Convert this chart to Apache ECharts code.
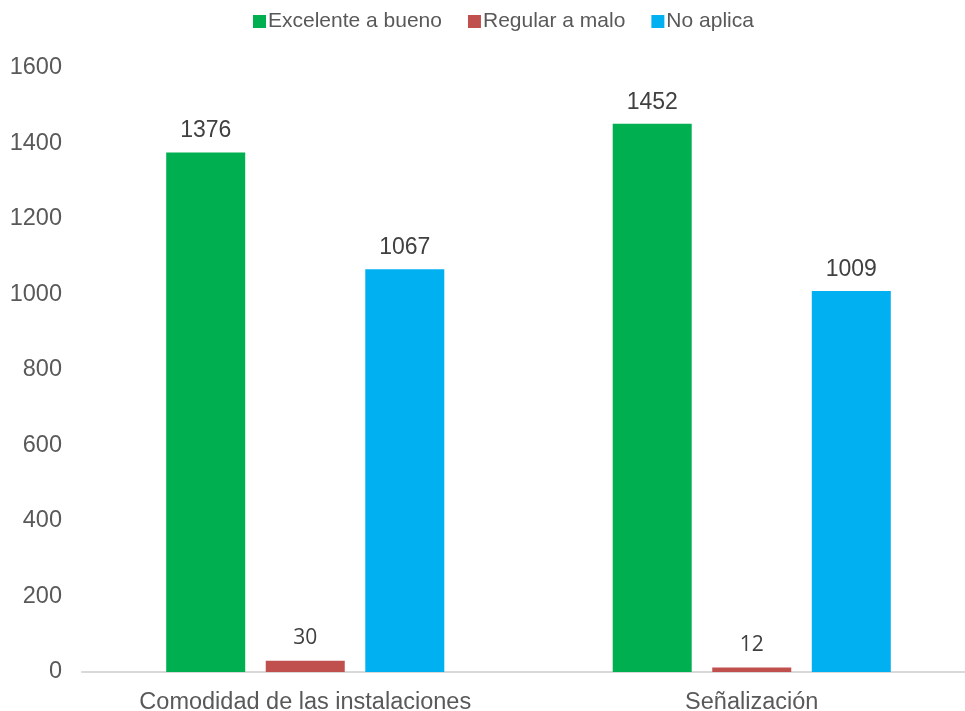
<!DOCTYPE html>
<html>
<head>
<meta charset="utf-8">
<script src="https://cdn.jsdelivr.net/npm/echarts@6/dist/echarts.min.js"></script>
<style>html,body{margin:0;padding:0;background:#fff;overflow:hidden}#c{width:965px;height:711px}</style>
</head>
<body>
<div id="c"></div>
<script>
const categories = ['Comodidad de las instalaciones', 'Señalización'];
const seriesNames = ['Excelente a bueno', 'Regular a malo', 'No aplica'];
const excelente = [1376, 1452];
const regular = [30, 12];
const noAplica = [1067, 1009];
const colors = ['#00B050', '#C0504D', '#00B0F0'];

const chart = echarts.init(document.getElementById('c'));
const font = '"Liberation Sans", Arial, sans-serif';
function bar(name, data, color, small) {
  return {
    name: name, type: 'bar', data: data, barWidth: 79, barGap: '26%',
    itemStyle: { color: color },
    label: {
      show: true, position: 'top', distance: small ? 12 : 10,
      color: '#404040',
      fontFamily: small ? '"Open Sans", sans-serif' : font,
      fontSize: small ? 21 : 23
    }
  };
}
chart.setOption({
  animation: false,
  textStyle: { fontFamily: font },
  legend: {
    top: 6, left: 248, itemWidth: 13, itemHeight: 13, itemGap: 26,
    icon: 'rect',
    textStyle: { fontSize: 21, color: '#595959', fontFamily: font, padding: [0, 0, 0, -3] },
    data: seriesNames
  },
  grid: { left: 82, top: 68, width: 893, height: 604, containLabel: false, outerBoundsMode: 'none' },
  xAxis: {
    type: 'category', data: categories,
    axisLine: { lineStyle: { color: '#D9D9D9', width: 2 } },
    axisTick: { show: false },
    axisLabel: { fontSize: 23.5, color: '#595959', margin: 19, fontFamily: font }
  },
  yAxis: {
    type: 'value', min: 0, max: 1600, interval: 200,
    axisLine: { show: false }, axisTick: { show: false },
    splitLine: { show: false },
    axisLabel: { fontSize: 23.5, color: '#595959', margin: 20, fontFamily: font,
      formatter: function (v) { return String(v); } }
  },
  series: [
    bar(seriesNames[0], excelente, colors[0], false),
    bar(seriesNames[1], regular, colors[1], true),
    bar(seriesNames[2], noAplica, colors[2], false)
  ]
});
</script>
</body>
</html>
